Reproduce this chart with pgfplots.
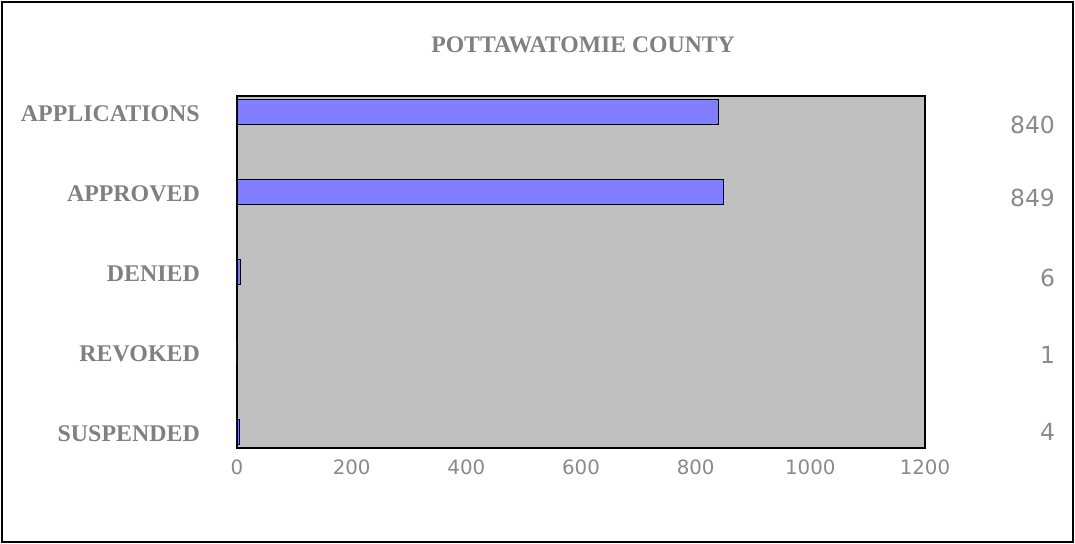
\documentclass[border=0pt]{standalone}
\usepackage{fontspec}
\setmainfont{Liberation Serif}
\newfontfamily\numfont{DejaVu Sans}
\usepackage{pgfplots}
\pgfplotsset{compat=1.18}
\usepackage{pgfplotstable}
\definecolor{barblue}{HTML}{8080FF}
\definecolor{plotbg}{HTML}{C0C0C0}
\definecolor{txtgray}{HTML}{808080}
\definecolor{numgray}{HTML}{8A8A8A}

\pgfplotstableread{
y v
0 840
1 849
2 6
3 1
4 4
}\bars

\pgfplotstableread{
y v
0.16 840
1.07 849
2.07 6
3.04 1
4.0 4
}\vals

\begin{document}
\begin{tikzpicture}
\useasboundingbox (-237bp,-96bp) rectangle (838bp,448bp);
\draw[line width=2.5bp, black] (-235bp,-94bp) rectangle (836bp,446bp);
\begin{axis}[
  at={(0,0)}, anchor=south west,
  scale only axis,
  width=688bp, height=352bp,
  xmin=0, xmax=1200,
  ymin=-0.2, ymax=4.2,
  y dir=reverse,
  axis background/.style={fill=plotbg},
  axis line style={black, line width=1.3bp},
  xtick={0,200,...,1200},
  ytick={0,1,2,3,4},
  yticklabels={\raisebox{-4bp}{APPLICATIONS}, APPROVED\hspace{5bp}, DENIED\hspace{4bp}, REVOKED\hspace{4bp}, SUSPENDED\hspace{9bp}},
  major tick length=0pt,
  /pgf/number format/assume math mode=true,
  /pgf/number format/1000 sep={},
  xticklabel style={inner sep=0pt, yshift=-12bp, font=\numfont\fontsize{19.8bp}{22bp}\selectfont, text=numgray},
  yticklabel style={inner sep=0pt, xshift=-37bp, yshift=-2bp, font=\bfseries\fontsize{23.9bp}{28bp}\selectfont, text=txtgray},
  title={POTTAWATOMIE COUNTY},
  title style={at={(0.503,1)}, anchor=center, yshift=45bp, inner sep=0pt, font=\bfseries\fontsize{23.7bp}{28bp}\selectfont, text=txtgray},
  clip=false,
]
\addplot[xbar, bar width=25bp, bar shift=0pt, draw=black, line width=0.6bp, fill=barblue] table[x=v, y=y] {\bars};
\addplot[draw=none, mark=none, nodes near coords, point meta=explicit symbolic,
  every node near coord/.style={anchor=east, inner sep=0pt, font=\numfont\fontsize{23.5bp}{26bp}\selectfont, text=numgray}]
  table[x expr=1427, y=y, meta=v] {\vals};
\end{axis}
\end{tikzpicture}
\end{document}
